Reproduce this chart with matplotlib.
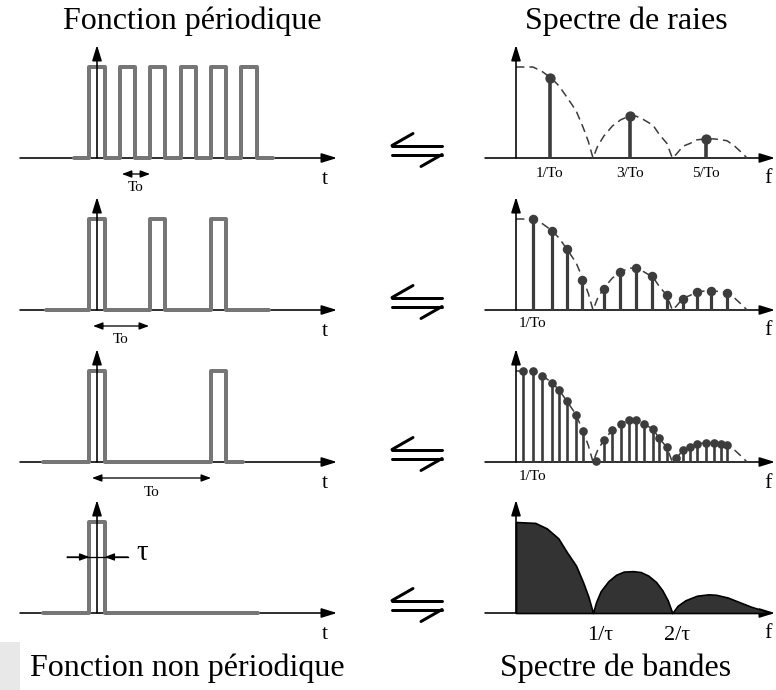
import matplotlib
matplotlib.use("Agg")
import matplotlib.pyplot as plt
from matplotlib.patches import Rectangle

W, H, DPI = 776, 690, 100
PT = 72 / DPI  # points per pixel

plt.rcParams['font.family'] = ['Liberation Serif', 'DejaVu Serif']

# ---------------- time-domain signals (t in units of tau, unit height) ----------------
pulse_centers = [[0, 2, 4, 6, 8, 10], [0, 4, 8], [0, 8], [0]]
signal_start = [-1.5, -3.35, -3.55, -3.55]
signal_end = [11.6, 11.3, 9.6, 10.6]
period_arrow_start = [1.64, -0.26, -0.33]
period_arrow_end = [3.49, 3.42, 7.5]
tau_arrow_left = -1.97
tau_arrow_right = 2.04

# ---------------- line spectra (f in units of 1/tau, normalised amplitude) ----------------
lines1_f = [0.44, 1.48, 2.47]
lines1_a = [0.88, 0.46, 0.21]
lines1_labels = ["1/To", "3/To", "5/To"]

lines2_f = [0.22, 0.47, 0.66, 0.86, 1.14, 1.35, 1.56, 1.77, 1.96, 2.17, 2.35, 2.53, 2.74]
lines2_a = [1.00, 0.87, 0.67, 0.33, 0.23, 0.42, 0.46, 0.37, 0.16, 0.12, 0.20, 0.21, 0.19]

lines3_f = [0.09, 0.22, 0.34, 0.47, 0.56, 0.66, 0.78, 0.87, 1.04, 1.14, 1.25, 1.36, 1.47,
            1.56, 1.66, 1.78, 1.86, 1.96, 2.08, 2.17, 2.26, 2.35, 2.47, 2.57, 2.66, 2.74]
lines3_a = [1.00, 1.00, 0.95, 0.87, 0.79, 0.67, 0.52, 0.34, 0.01, 0.24, 0.35, 0.42, 0.46,
            0.46, 0.42, 0.36, 0.26, 0.16, 0.04, 0.13, 0.16, 0.20, 0.21, 0.21, 0.20, 0.19]

# dashed envelope of the line spectra
env_f = [0, 0.09, 0.22, 0.34, 0.47, 0.56, 0.66, 0.78, 0.87, 0.94, 1.0,
         1.06, 1.14, 1.25, 1.36, 1.47, 1.56, 1.66, 1.78, 1.86, 1.96, 2.03,
         2.08, 2.17, 2.26, 2.35, 2.47, 2.57, 2.66, 2.74, 2.84, 2.93, 3.0]
env_a = [1.0, 1.0, 1.0, 0.95, 0.87, 0.79, 0.67, 0.52, 0.34, 0.18, 0.0,
         0.13, 0.24, 0.35, 0.42, 0.46, 0.46, 0.42, 0.36, 0.26, 0.16, 0.0,
         0.04, 0.13, 0.16, 0.20, 0.21, 0.21, 0.20, 0.19, 0.13, 0.06, 0.0]

# continuous (band) spectrum of the single pulse
band_f = [0, 0.25, 0.4, 0.55, 0.66, 0.78, 0.87, 0.94, 1.0,
          1.04, 1.1, 1.2, 1.3, 1.4, 1.52, 1.62, 1.72, 1.82, 1.9, 1.97, 2.03,
          2.1, 2.2, 2.35, 2.5, 2.6, 2.75, 2.9, 3.05, 3.2, 3.3]
band_a = [1.0, 0.99, 0.93, 0.82, 0.67, 0.52, 0.34, 0.18, 0.0,
          0.12, 0.24, 0.35, 0.42, 0.455, 0.46, 0.45, 0.41, 0.34, 0.25, 0.14, 0.0,
          0.08, 0.14, 0.19, 0.205, 0.20, 0.17, 0.12, 0.07, 0.03, 0.0]
band_labels = [(1, "1/\u03c4"), (2, "2/\u03c4")]

# ---------------- layout (pixels) ----------------
TAU_PX = 15.2     # width of one pulse
AMP_PX = 91       # pulse / spectrum unit height
F_PX = 77         # one 1/tau step on the frequency axis
baselines = [158, 310, 462, 613]
LEFT_ORIGIN = 97
RIGHT_ORIGIN = 516

SIGNAL_GRAY = '#767676'
DARK = '#3c3c3c'

fig = plt.figure(figsize=(W / DPI, H / DPI), dpi=DPI)


def px_axes(x0, x1, y0, y1):
    ax = fig.add_axes([x0 / W, 1 - y1 / H, (x1 - x0) / W, (y1 - y0) / H])
    ax.axis('off')
    ax.patch.set_visible(False)
    return ax


def arrow(ax, x0, y0, x1, y1, lw_px=1.6, hl_px=13, hw_px=8, both=False, z=5):
    ms = 10
    scale = ms * DPI / 72
    head = '<|-|>' if both else '-|>'
    style = f"{head},head_length={hl_px / scale:.3f},head_width={hw_px / 2 / scale:.3f}"
    ax.annotate('', xy=(x1, y1), xytext=(x0, y0),
                arrowprops=dict(arrowstyle=style, lw=lw_px * PT, color='black',
                                shrinkA=0, shrinkB=0, mutation_scale=ms),
                annotation_clip=False, zorder=z)


# ---------------- left column: time signals ----------------
for row, b in enumerate(baselines):
    ax = px_axes(0, 340, b - 130, b + 45)
    ax.set_xlim(-LEFT_ORIGIN / TAU_PX, (340 - LEFT_ORIGIN) / TAU_PX)
    ax.set_ylim(-45 / AMP_PX, 130 / AMP_PX)

    # time axis
    arrow(ax, (20 - LEFT_ORIGIN) / TAU_PX, 0, (337 - LEFT_ORIGIN) / TAU_PX, 0, z=1)

    # pulse train
    xs, ys = [signal_start[row]], [0]
    for c in pulse_centers[row]:
        xs += [c - 0.5, c - 0.5, c + 0.5, c + 0.5]
        ys += [0, 1, 1, 0]
    xs.append(signal_end[row])
    ys.append(0)
    ax.plot(xs, ys, color=SIGNAL_GRAY, lw=4 * PT, solid_joinstyle='round',
            solid_capstyle='round', zorder=2)

    # amplitude axis
    arrow(ax, 0, 0, 0, 113 / AMP_PX, z=6)

    ax.text(15.0, -0.24, "t", fontsize=16, ha='center', va='center')

    if row < 3:
        ya = -16 / AMP_PX
        arrow(ax, period_arrow_start[row], ya, period_arrow_end[row], ya,
              lw_px=1.3, hl_px=8, hw_px=6, both=True)
        xm = 0.5 * (period_arrow_start[row] + period_arrow_end[row])
        ax.text(xm, -30 / AMP_PX, "To", fontsize=11, ha='center', va='center')
    else:
        yt = 56 / AMP_PX
        ax.plot([tau_arrow_left, tau_arrow_right], [yt, yt], color='black',
                lw=1.3 * PT, zorder=5)
        arrow(ax, tau_arrow_left, yt, -0.5, yt, lw_px=1.3, hl_px=8, hw_px=6)
        arrow(ax, tau_arrow_right, yt, 0.5, yt, lw_px=1.3, hl_px=8, hw_px=6)
        ax.text(3.0, yt + 0.04, "\u03c4", fontsize=21, ha='center', va='center')

# ---------------- right column: spectra ----------------
line_sets = [(lines1_f, lines1_a, 2.6, 6.4),
             (lines2_f, lines2_a, 2.3, 5.8),
             (lines3_f, lines3_a, 1.9, 5.2)]

for row, b in enumerate(baselines):
    ax = px_axes(470, 776, b - 130, b + 45)
    ax.set_xlim(-(RIGHT_ORIGIN - 470) / F_PX, (776 - RIGHT_ORIGIN) / F_PX)
    ax.set_ylim(-45 / AMP_PX, 130 / AMP_PX)

    arrow(ax, (485 - RIGHT_ORIGIN) / F_PX, 0, (775 - RIGHT_ORIGIN) / F_PX, 0, z=1)
    arrow(ax, 0, 0, 0, 113 / AMP_PX, z=6)
    ax.text((768 - RIGHT_ORIGIN) / F_PX, -21 / AMP_PX, "f", fontsize=16,
            ha='center', va='center')

    if row < 3:
        fv, av, slw, msz = line_sets[row]
        ax.plot(env_f, env_a, color=DARK, lw=1.1, dashes=(5.5, 3.3), zorder=2)
        ax.vlines(fv, 0, av, color=DARK, lw=slw, zorder=3)
        ax.plot(fv, av, 'o', color=DARK, ms=msz, mec=DARK, zorder=4)
        if row == 0:
            for f, lab in zip(fv, lines1_labels):
                ax.text(f, -16 / AMP_PX, lab, fontsize=11, ha='center', va='center')
        else:
            ax.text(fv[0] if row == 1 else fv[1], -14 / AMP_PX, "1/To",
                    fontsize=11, ha='center', va='center')
    else:
        ax.fill_between(band_f, band_a, 0, facecolor='#333333', edgecolor='black',
                        lw=1.2, zorder=3)
        for f, lab in band_labels:
            ax.annotate(lab, (f, -23 / AMP_PX), xytext=(5, 0), textcoords='offset points',
                        fontsize=16, ha='center', va='center', annotation_clip=False)

# ---------------- overlay: equivalence harpoons, titles ----------------
ov = fig.add_axes([0, 0, 1, 1])
ov.axis('off')
ov.patch.set_visible(False)
ov.set_xlim(0, W)
ov.set_ylim(H, 0)

for b in baselines:
    cx, cy = 417, b - 8
    hl = dict(color='black', lw=3 * PT, solid_capstyle='round')
    ov.plot([cx - 25, cx + 25], [cy - 4.5, cy - 4.5], **hl)
    ov.plot([cx - 25, cx - 4], [cy - 4.5, cy - 16.5], **hl)
    ov.plot([cx - 25, cx + 25], [cy + 4.5, cy + 4.5], **hl)
    ov.plot([cx + 25, cx + 4], [cy + 4.5, cy + 16.5], **hl)

ov.add_patch(Rectangle((0, 642), 20, 48, facecolor='#e8e8e8', edgecolor='none', zorder=0))

title_kw = dict(fontsize=23, ha='center', va='center')
fig.text(192 / W, 1 - 21 / H, "Fonction p\u00e9riodique", **title_kw)
fig.text(626 / W, 1 - 21 / H, "Spectre de raies", **title_kw)
fig.text(187 / W, 1 - 668 / H, "Fonction non p\u00e9riodique", **title_kw)
fig.text(616 / W, 1 - 668 / H, "Spectre de bandes", **title_kw)

fig.savefig("out.png", dpi=DPI)
